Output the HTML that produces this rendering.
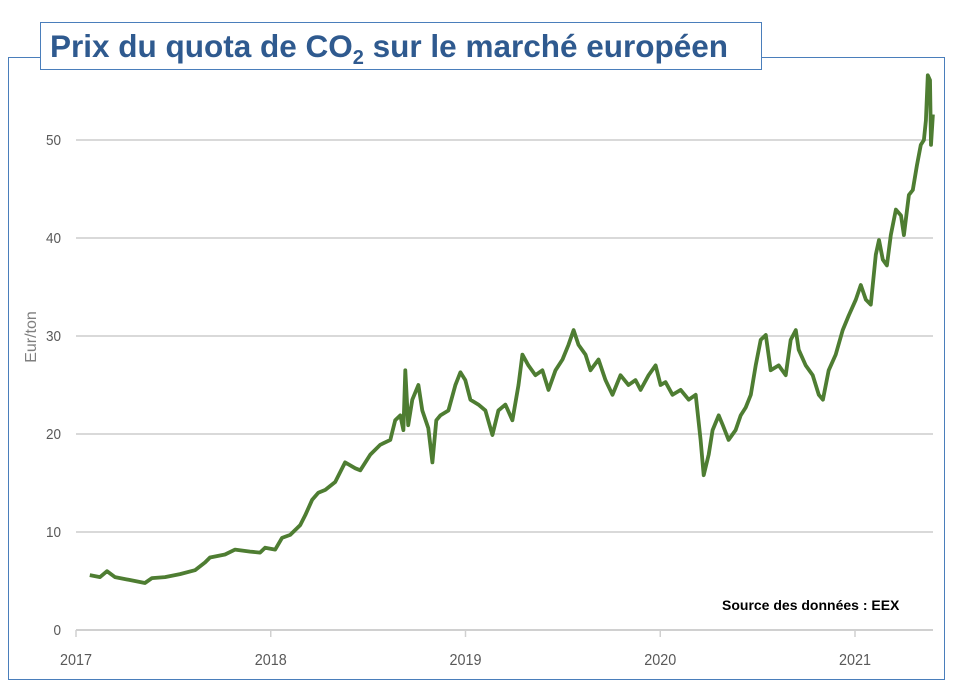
<!DOCTYPE html>
<html><head><meta charset="utf-8"><style>
html,body{margin:0;padding:0;background:#fff;width:953px;height:691px;overflow:hidden;font-family:"Liberation Sans",Arial,sans-serif}
#frame{position:absolute;left:8px;top:57px;width:937px;height:623px;border:1.5px solid #4a7ebb;box-sizing:border-box}
#title{position:absolute;left:40px;top:22px;width:722px;height:48px;border:1.5px solid #4a7ebb;background:#fff;box-sizing:border-box;color:#2f5a8f;font-weight:bold;font-size:31.5px;line-height:46px;padding-left:9px;white-space:nowrap}
#title sub{font-size:20px;vertical-align:-7px;line-height:0}
svg{position:absolute;left:0;top:0}
</style></head><body>
<div id="frame"></div>
<div id="title">Prix du quota de CO<sub>2</sub> sur le marché européen</div>
<svg id="chart" width="953" height="691"></svg>
<script>
const yTicks=[0,10,20,30,40,50];
const xTicks=[2017,2018,2019,2020,2021];
const dateOffsets=[0.051,0.103,0.139,0.180,0.257,0.334,0.370,0.437,0.514,0.591,0.643,0.668,0.745,0.797,0.874,0.925,0.951,1.003,1.038,1.080,1.131,1.157,1.193,1.224,1.260,1.311,1.362,1.414,1.440,1.491,1.542,1.594,1.619,1.645,1.661,1.671,1.686,1.707,1.738,1.758,1.789,1.810,1.830,1.851,1.892,1.928,1.954,1.979,2.005,2.046,2.082,2.118,2.149,2.185,2.221,2.252,2.272,2.303,2.339,2.375,2.406,2.442,2.478,2.509,2.535,2.560,2.596,2.622,2.663,2.699,2.735,2.776,2.817,2.853,2.879,2.920,2.956,2.982,3.007,3.043,3.085,3.126,3.162,3.187,3.203,3.229,3.249,3.280,3.301,3.331,3.367,3.393,3.419,3.445,3.470,3.496,3.522,3.547,3.588,3.624,3.650,3.676,3.691,3.727,3.763,3.794,3.815,3.845,3.881,3.917,3.948,3.984,4.010,4.036,4.061,4.087,4.103,4.123,4.144,4.164,4.190,4.216,4.231,4.257,4.277,4.298,4.318,4.334,4.344,4.354,4.365,4.370,4.380];
const prices=[5.6,5.4,6.0,5.4,5.1,4.8,5.3,5.4,5.7,6.1,6.9,7.4,7.7,8.2,8.0,7.9,8.4,8.2,9.4,9.7,10.7,11.7,13.3,14.0,14.3,15.1,17.1,16.5,16.3,17.9,18.9,19.4,21.4,21.9,20.4,26.5,20.9,23.5,25.0,22.4,20.6,17.1,21.4,21.9,22.4,25.0,26.3,25.5,23.5,23.0,22.4,19.9,22.4,23.0,21.4,25.0,28.1,27.0,26.0,26.5,24.5,26.5,27.6,29.1,30.6,29.1,28.1,26.5,27.6,25.5,24.0,26.0,25.0,25.5,24.5,26.0,27.0,25.0,25.3,24.0,24.5,23.5,24.0,19.4,15.8,17.9,20.4,21.9,20.9,19.4,20.4,21.9,22.7,24.0,27.0,29.6,30.1,26.5,27.0,26.0,29.6,30.6,28.6,27.0,26.0,24.0,23.5,26.5,28.1,30.6,32.1,33.7,35.2,33.7,33.2,38.3,39.8,37.8,37.2,40.3,42.9,42.3,40.3,44.4,44.9,47.4,49.5,50.0,52.0,56.6,56.1,49.5,52.6];
const NS='http://www.w3.org/2000/svg';
const svg=document.getElementById('chart');
const xs=t=>76+194.75*(t-2017);
const ys=v=>630-9.8*v;
function mk(tag,attrs){const e=document.createElementNS(NS,tag);for(const k in attrs)e.setAttribute(k,attrs[k]);svg.appendChild(e);return e;}
yTicks.forEach(v=>{
  if(v>0){const g=mk('line',{x1:76,x2:933,y1:ys(v),y2:ys(v),stroke:'#d9d9d9','stroke-width':2});
  
  }
  const t=mk('text',{x:61,y:ys(v)+5,'text-anchor':'end','font-size':15,fill:'#595959',transform:'translate('+(61*0.1)+',0) scale(0.9,1)'});
  t.textContent=v;
  
  
});
const ax=mk('line',{x1:76,x2:933,y1:630,y2:630,stroke:'#d0d0d0','stroke-width':2});


xTicks.forEach(yr=>{
  const tk=mk('line',{x1:xs(yr),x2:xs(yr),y1:630,y2:637,stroke:'#d0d0d0','stroke-width':1.5});
  
  
  const t=mk('text',{x:xs(yr),y:665,'text-anchor':'middle','font-size':16,fill:'#595959',transform:'translate('+(xs(yr)*0.1)+',0) scale(0.9,1)'});
  t.textContent=yr;
  
  
});
const yt=mk('text',{x:0,y:0,transform:'translate(36,337) rotate(-90)','text-anchor':'middle','font-size':16,fill:'#7f7f7f'});
yt.textContent='Eur/ton';


const d=dateOffsets.map((o,i)=>(i?'L':'M')+xs(2017.02+o).toFixed(1)+','+ys(prices[i]).toFixed(1)).join(' ');
const p=mk('path',{d:d,fill:'none',stroke:'#4e7d32','stroke-width':3.8,'stroke-linejoin':'round'});


const s=mk('text',{x:722,y:610,'font-size':14,'font-weight':'bold',fill:'#000'});
s.textContent='Source des données : EEX';


</script>
</body></html>
